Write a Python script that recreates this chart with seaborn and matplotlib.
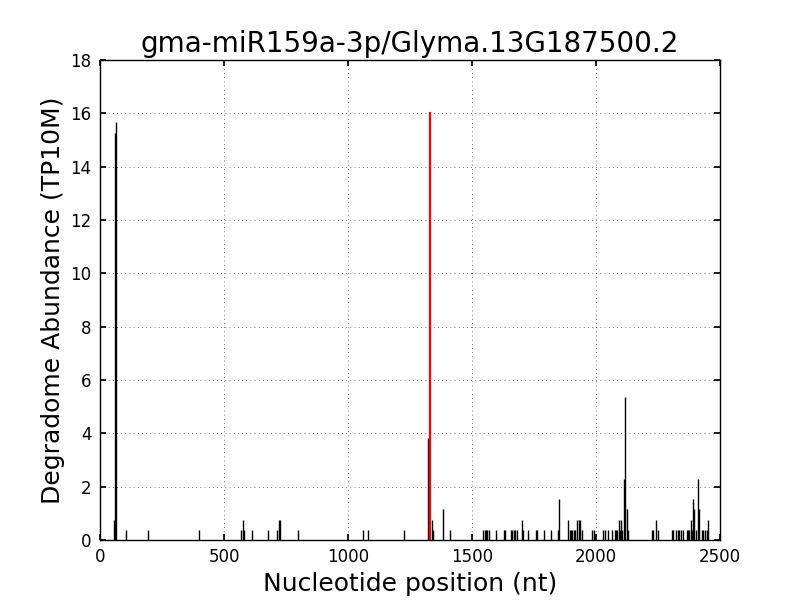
import numpy as np
import pandas as pd
import matplotlib
matplotlib.use('Agg')
import matplotlib.pyplot as plt
import seaborn as sns

# degradome reads along the transcript (position in nt, abundance in TP10M)
positions = [57, 61, 64, 105, 195, 400, 569, 575, 582, 611, 679, 715, 722, 726, 800,
             1059, 1079, 1227, 1322, 1337, 1344, 1385, 1413,
             1546, 1551, 1556, 1562, 1569, 1597, 1630, 1634, 1657, 1662, 1668, 1673, 1680,
             1703, 1707, 1727, 1758, 1763, 1790, 1819, 1846, 1852,
             1888, 1894, 1899, 1905, 1910, 1915, 1925, 1930, 1935, 1942, 1983, 1990,
             2027, 2036, 2048, 2063, 2077, 2081, 2086, 2093, 2097, 2101, 2106,
             2111, 2117, 2125, 2130, 2227, 2231, 2241, 2249,
             2305, 2312, 2322, 2329, 2336, 2343, 2350, 2366, 2371, 2376, 2383, 2388,
             2393, 2397, 2405, 2413, 2417, 2426, 2431, 2441, 2446, 2453]
abundance = [0.76, 15.28, 15.66, 0.38, 0.38, 0.38, 0.38, 0.76, 0.38, 0.38, 0.38, 0.38, 0.76, 0.76, 0.38,
             0.38, 0.38, 0.38, 3.82, 0.76, 0.38, 1.15, 0.38,
             0.38, 0.38, 0.38, 0.38, 0.38, 0.38, 0.38, 0.38, 0.38, 0.38, 0.38, 0.38, 0.38,
             0.76, 0.38, 0.38, 0.38, 0.38, 0.38, 0.38, 0.38, 1.53,
             0.76, 0.38, 0.38, 0.38, 0.38, 0.38, 0.76, 0.76, 0.76, 0.38, 0.38, 0.38,
             0.38, 0.38, 0.38, 0.38, 0.38, 0.38, 0.38, 0.76, 0.38, 0.76, 0.38,
             2.29, 5.35, 1.15, 0.38, 0.38, 0.38, 0.76, 0.38,
             0.38, 0.38, 0.38, 0.38, 0.38, 0.38, 0.38, 0.38, 0.38, 0.38, 0.76, 0.38,
             1.53, 1.15, 0.38, 2.29, 1.15, 0.38, 0.38, 0.38, 0.38, 0.76]

# cleavage site predicted for the miRNA
site_pos = [1331]
site_abund = [16.05]

sns.set_theme(style="white", rc={
    'axes.edgecolor': 'black', 'axes.linewidth': 1.0,
    'xtick.direction': 'in', 'ytick.direction': 'in',
    'xtick.top': True, 'ytick.right': True,
    'xtick.bottom': True, 'ytick.left': True,
    'xtick.major.size': 4, 'ytick.major.size': 4,
    'xtick.color': 'black', 'ytick.color': 'black',
    'text.color': 'black', 'axes.labelcolor': 'black',
    'axes.grid': True, 'grid.color': 'black',
    'grid.linewidth': 0.5, 'axes.axisbelow': False,
})
plt.rcParams['font.family'] = ['DejaVu Sans']

df = pd.DataFrame({'pos': positions, 'abund': abundance})

fig, ax = plt.subplots(figsize=(8, 6), dpi=100)
fig.subplots_adjust(left=0.125, right=0.9, bottom=0.1, top=0.9)

ax.vlines(df['pos'], 0, df['abund'], colors='black', linewidth=1.0)
ax.vlines(site_pos, 0, site_abund, colors='red', linewidth=1.6)

ax.set_xlim(0, 2500)
ax.set_ylim(0, 18)
ax.set_xticks(np.arange(0, 2501, 500))
ax.set_yticks(np.arange(0, 19, 2))
ax.grid(True, color='black', linewidth=0.5, linestyle=(0, (1, 5)))
ax.tick_params(labelsize=12, pad=6)
ax.set_title('gma-miR159a-3p/Glyma.13G187500.2', fontsize=20)
ax.set_xlabel('Nucleotide position (nt)', fontsize=18)
ax.set_ylabel('Degradome Abundance (TP10M)', fontsize=18)

fig.savefig('out.png', dpi=100)
